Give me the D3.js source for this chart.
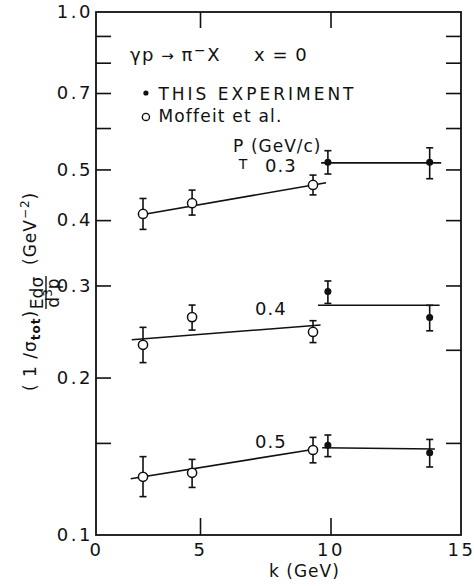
<!DOCTYPE html>
<html>
<head>
<meta charset="utf-8">
<script src="https://cdn.jsdelivr.net/npm/d3@7"></script>
<style>
  body { margin: 0; background: #fff; }
  text { font-family: "DejaVu Sans", sans-serif; fill: #111; }
</style>
</head>
<body>
<div id="chart"></div>
<script>
// P_T bins (GeV/c)
var ptLabels = ["0.3", "0.4", "0.5"];

// photon energies k (GeV)
var kMoffeit = [2.26, 4.62, 9.33];
var kThis = [9.9, 13.8];

// Moffeit et al. (open circles): value, low, high for each P_T bin
var moffeitY  = [[0.411, 0.431, 0.467], [0.231, 0.261, 0.2445], [0.1292, 0.1315, 0.1454]];
var moffeitLo = [[0.384, 0.409, 0.447], [0.2136, 0.2465, 0.2333], [0.1184, 0.1233, 0.1374]];
var moffeitHi = [[0.440, 0.4565, 0.4877], [0.2495, 0.2752, 0.2569], [0.1412, 0.1395, 0.1537]];

// this experiment (filled dots)
var thisY  = [[0.516, 0.516], [0.292, 0.2606], [0.1484, 0.1436]];
var thisLo = [[0.490, 0.480], [0.2772, 0.2457], [0.1412, 0.1349]];
var thisHi = [[0.543, 0.550], [0.306, 0.2749], [0.1553, 0.1523]];

// drawn lines (end points)
var moffeitFitK = [[2.26, 9.83], [1.72, 9.62], [1.67, 9.2]];
var moffeitFitY = [[0.410, 0.4717], [0.2362, 0.2521], [0.1281, 0.1454]];
var thisFitK = [[9.64, 14.24], [9.52, 14.18], [9.68, 14.0]];
var thisFitY = [[0.5146, 0.5146], [0.2749, 0.2749], [0.1468, 0.146]];

// axis ticks
var xTicks = [0, 5, 10, 15];
var yTicksLeft = [1.0, 0.9, 0.8, 0.7, 0.6, 0.5, 0.4, 0.3, 0.2, 0.15, 0.1];
var yTicksRight = [0.9, 0.8, 0.7, 0.6, 0.5, 0.4, 0.3, 0.226, 0.15];
var yLabelled = [1.0, 0.7, 0.5, 0.4, 0.3, 0.2, 0.1];

var margin = {top: 12, right: 13, bottom: 51, left: 96};
var W = 474, H = 586;
var w = W - margin.left - margin.right;
var h = H - margin.top - margin.bottom;

var svg = d3.select("#chart").append("svg")
    .attr("width", W)
    .attr("height", H);

var g = svg.append("g")
    .attr("transform", "translate(" + margin.left + "," + margin.top + ")");

// the printed axis is not uniform below k=5, so a piecewise scale
var x = d3.scaleLinear().domain([0, 5, 15]).range([0, 104, w]);
var y = d3.scaleLog().domain([0.1, 1.0]).range([h, 0]);

function fmtY(d) {
    return yLabelled.indexOf(d) >= 0 ? d3.format(".1f")(d) : "";
}

// left axis
var gl = g.append("g").call(d3.axisLeft(y).tickValues(yTicksLeft).tickSize(-15)
    .tickPadding(3).tickFormat(fmtY));
// right axis
var gr = g.append("g").attr("transform", "translate(" + w + ",0)")
    .call(d3.axisRight(y).tickValues(yTicksRight).tickSize(-15).tickFormat(""));
// bottom axis
var gb = g.append("g").attr("transform", "translate(0," + h + ")")
    .call(d3.axisBottom(x).tickValues(xTicks).tickSize(-17).tickPadding(8)
        .tickFormat(d3.format("d")));
// top axis
var gt = g.append("g")
    .call(d3.axisTop(x).tickValues([5, 10]).tickSize(-16).tickFormat(""));

[gl, gr, gb, gt].forEach(function (a) {
    a.select(".domain").remove();
    a.selectAll("line").attr("stroke", "#111").attr("stroke-width", 1.6);
    a.selectAll("text").style("font-size", "18px").style("letter-spacing", "2.5px")
        .attr("fill", "#111");
});
gb.selectAll(".tick").filter(function (d) { return d === 0 || d === 15; })
    .select("line").remove();
gl.selectAll(".tick").filter(function (d) { return d === 1.0 || d === 0.1; })
    .select("line").remove();

g.append("rect")
    .attr("width", w).attr("height", h)
    .attr("fill", "none").attr("stroke", "#111").attr("stroke-width", 1.8);

var line = d3.line()
    .x(function (d) { return x(d[0]); })
    .y(function (d) { return y(d[1]); });

var capW = 3.5;

ptLabels.forEach(function (pt, i) {
    var s = g.append("g").attr("class", "pt" + i);

    // fitted lines
    s.append("path")
        .datum(d3.zip(moffeitFitK[i], moffeitFitY[i]))
        .attr("d", line).attr("fill", "none").attr("stroke", "#111").attr("stroke-width", 1.6);
    s.append("path")
        .datum(d3.zip(thisFitK[i], thisFitY[i]))
        .attr("d", line).attr("fill", "none").attr("stroke", "#111").attr("stroke-width", 1.6);

    var pts = kMoffeit.map(function (k, j) {
        return {k: k, v: moffeitY[i][j], lo: moffeitLo[i][j], hi: moffeitHi[i][j], open: true};
    }).concat(kThis.map(function (k, j) {
        return {k: k, v: thisY[i][j], lo: thisLo[i][j], hi: thisHi[i][j], open: false};
    }));

    var eb = s.selectAll(".err").data(pts).enter().append("g").attr("class", "err")
        .attr("stroke", "#111").attr("stroke-width", 1.6);
    eb.append("line")
        .attr("x1", function (d) { return x(d.k); }).attr("x2", function (d) { return x(d.k); })
        .attr("y1", function (d) { return y(d.lo); }).attr("y2", function (d) { return y(d.hi); });
    eb.append("line")
        .attr("x1", function (d) { return x(d.k) - capW; }).attr("x2", function (d) { return x(d.k) + capW; })
        .attr("y1", function (d) { return y(d.hi); }).attr("y2", function (d) { return y(d.hi); });
    eb.append("line")
        .attr("x1", function (d) { return x(d.k) - capW; }).attr("x2", function (d) { return x(d.k) + capW; })
        .attr("y1", function (d) { return y(d.lo); }).attr("y2", function (d) { return y(d.lo); });

    s.selectAll("circle").data(pts).enter().append("circle")
        .attr("cx", function (d) { return x(d.k); })
        .attr("cy", function (d) { return y(d.v); })
        .attr("r", function (d) { return d.open ? 4.6 : 2.8; })
        .attr("fill", function (d) { return d.open ? "#fff" : "#111"; })
        .attr("stroke", "#111").attr("stroke-width", 1.5);
});

// P_T labels
var ptPos = [[7.49, 0.494], [7.11, 0.2635], [7.11, 0.1465]];
ptLabels.forEach(function (pt, i) {
    g.append("text")
        .attr("x", x(ptPos[i][0])).attr("y", y(ptPos[i][1]))
        .style("font-size", "18px").style("letter-spacing", "1px")
        .text(pt);
});

// P_T heading, subscript kept as its own text
g.append("text")
    .attr("x", x(6.26)).attr("y", y(0.54))
    .style("font-size", "17px")
    .text("P");
g.append("text")
    .attr("x", x(6.48)).attr("y", y(0.5))
    .style("font-size", "14px")
    .text("T");
g.append("text")
    .attr("x", x(6.95)).attr("y", y(0.54))
    .style("font-size", "17px").style("letter-spacing", "1px")
    .text("(GeV/c)");

// reaction and legend
var react = g.append("text")
    .attr("x", x(1.63)).attr("y", y(0.806))
    .style("font-size", "18px").style("letter-spacing", "1.5px");
react.append("tspan").text("γp");
react.append("tspan").style("font-size", "15px").text(" → ");
react.append("tspan").text("π");
react.append("tspan").attr("dy", -6).style("font-size", "14px").text("−");
react.append("tspan").attr("dy", 6).text("X");
g.append("text")
    .attr("x", x(7.07)).attr("y", y(0.806))
    .style("font-size", "18px").style("letter-spacing", "1px")
    .text("x = 0");

g.append("circle").attr("cx", x(2.4)).attr("cy", y(0.70)).attr("r", 2.6).attr("fill", "#111");
g.append("text")
    .attr("x", x(3.0)).attr("y", y(0.679))
    .style("font-size", "17px").style("letter-spacing", "3px")
    .text("THIS EXPERIMENT");
g.append("circle").attr("cx", x(2.4)).attr("cy", y(0.63)).attr("r", 3.6)
    .attr("fill", "#fff").attr("stroke", "#111").attr("stroke-width", 1.4);
g.append("text")
    .attr("x", x(3.0)).attr("y", y(0.616))
    .style("font-size", "17px").style("letter-spacing", "1.2px")
    .text("Moffeit et al.");

// x axis title
svg.append("text")
    .attr("x", margin.left + x(9.0)).attr("y", H - 9)
    .attr("text-anchor", "middle")
    .style("font-size", "17px").style("letter-spacing", "1px")
    .text("k (GeV)");

// y axis title: (1/σtot) Edσ/d³p (GeV⁻²)
var yl = svg.append("g").attr("transform", "translate(36,391) rotate(-90)");
var t1 = yl.append("text").attr("x", 0).attr("y", 0)
    .style("font-size", "17px").style("letter-spacing", "1px");
t1.append("tspan").text("( 1 /σ");
t1.append("tspan").attr("dy", 4).style("font-size", "12px").style("font-weight", "bold").text("tot");
t1.append("tspan").attr("dy", -4).text(")");

yl.append("text").attr("x", 98).attr("y", 7).attr("text-anchor", "middle")
    .style("font-size", "17px").text("Edσ");
yl.append("line").attr("x1", 82).attr("x2", 115).attr("y1", 10).attr("y2", 10)
    .attr("stroke", "#111").attr("stroke-width", 1.4);
var den = yl.append("text").attr("x", 98).attr("y", 23).attr("text-anchor", "middle")
    .style("font-size", "17px");
den.append("tspan").text("d");
den.append("tspan").attr("dy", -7).style("font-size", "12px").text("3");
den.append("tspan").attr("dy", 7).text("p");

var t3 = yl.append("text").attr("x", 126).attr("y", 0)
    .style("font-size", "17px").style("letter-spacing", "1px");
t3.append("tspan").text("(GeV");
t3.append("tspan").attr("dy", -7).style("font-size", "12px").text("−2");
t3.append("tspan").attr("dy", 7).text(")");
</script>
</body>
</html>
